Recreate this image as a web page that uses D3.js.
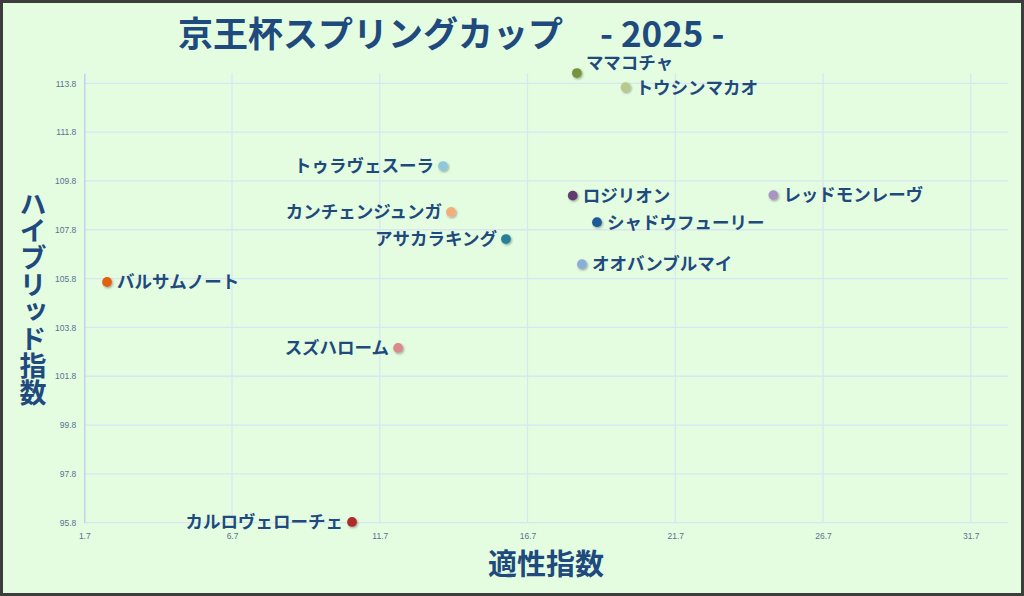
<!DOCTYPE html>
<html>
<head>
<meta charset="utf-8">
<script src="https://cdn.jsdelivr.net/npm/d3@7"></script>
<style>
  body { margin: 0; background: #fff; }
  svg { display: block; font-family: "Noto Sans CJK JP", "Noto Sans", sans-serif; }
</style>
</head>
<body>
<div id="chart"></div>
<script>
// data
const horses = ["ママコチャ", "トウシンマカオ", "トゥラヴェスーラ", "ロジリオン", "レッドモンレーヴ",
  "カンチェンジュンガ", "シャドウフューリー", "アサカラキング", "オオバンブルマイ", "バルサムノート",
  "スズハローム", "カルロヴェローチェ"];
const tekisei = [18.37, 20.02, 13.84, 18.23, 25.02, 14.11, 19.05, 15.97, 18.54, 2.47, 12.32, 10.76];
const hybrid = [114.22, 113.64, 110.41, 109.20, 109.22, 108.53, 108.11, 107.42, 106.39, 105.66, 102.96, 95.83];
const xTicks = [1.7, 6.7, 11.7, 16.7, 21.7, 26.7, 31.7];
const yTicks = [95.8, 97.8, 99.8, 101.8, 103.8, 105.8, 107.8, 109.8, 111.8, 113.8];

// dot colours, same order as horses
const palette = ["#77933c", "#b9c98c", "#8ec8da", "#5f3c6e", "#a995c2", "#f4ae7c",
  "#1f5c99", "#25809a", "#8aaed8", "#e1620b", "#d98a8a", "#b02a2a"];
// where each label goes relative to its dot
const leftLabels = ["トゥラヴェスーラ", "カンチェンジュンガ", "アサカラキング", "スズハローム", "カルロヴェローチェ"];

const W = 1024, H = 596;
const plot = { left: 84.3, right: 1008, top: 73.3, bottom: 522.7 };
const ink = "#1f4a7e";

var svg = d3.select("#chart").append("svg").attr("width", W).attr("height", H);

var defs = svg.append("defs");
defs.append("filter").attr("id", "shadow")
  .attr("x", "-50%").attr("y", "-50%").attr("width", "200%").attr("height", "200%")
  .append("feDropShadow")
  .attr("dx", 1).attr("dy", 1.2).attr("stdDeviation", 0.9)
  .attr("flood-color", "#000").attr("flood-opacity", 0.35);

// background + frame
svg.append("rect").attr("x", 1.5).attr("y", 1.5).attr("width", W - 3).attr("height", H - 3)
  .style("fill", "#e4fde1").style("stroke", "#3d3d3d").style("stroke-width", 3);

// scales
const x = d3.scaleLinear().domain([1.7, 32.96]).range([plot.left, plot.right]);
const y = d3.scaleLinear().domain([95.8, 114.21]).range([plot.bottom, plot.top]);

// grid
svg.append("g").selectAll("line").data(yTicks).enter().append("line")
  .attr("x1", plot.left).attr("x2", plot.right)
  .attr("y1", d => y(d)).attr("y2", d => y(d))
  .style("stroke", "#d8e6f2").style("stroke-width", 1.3);
svg.append("g").selectAll("line").data(xTicks.slice(1)).enter().append("line")
  .attr("x1", d => x(d)).attr("x2", d => x(d))
  .attr("y1", plot.top).attr("y2", plot.bottom)
  .style("stroke", "#d8e6f2").style("stroke-width", 1.3);

// axes
var xAxis = svg.append("g")
  .attr("transform", "translate(0," + plot.bottom + ")")
  .call(d3.axisBottom(x).tickValues(xTicks).tickSize(0).tickPadding(10).tickFormat(d3.format(".1f")));
var yAxis = svg.append("g")
  .attr("transform", "translate(" + plot.left + ",0)")
  .call(d3.axisLeft(y).tickValues(yTicks).tickSize(0).tickPadding(8).tickFormat(d3.format(".1f")));
xAxis.select(".domain").remove();
yAxis.select(".domain").style("stroke", "#b9cdf0").style("stroke-width", 1.3);
svg.selectAll(".tick text")
  .style("font-family", "Liberation Sans, sans-serif")
  .style("font-size", "8.5px").style("fill", "#5a7190");

// dots
svg.append("g").selectAll("circle").data(horses).enter().append("circle")
  .attr("cx", (d, i) => x(tekisei[i]))
  .attr("cy", (d, i) => y(hybrid[i]))
  .attr("r", 4.9)
  .attr("filter", "url(#shadow)")
  .style("fill", (d, i) => palette[i]);

// labels
svg.append("g").selectAll("text").data(horses).enter().append("text")
  .attr("x", (d, i) => x(tekisei[i]) + (leftLabels.includes(d) ? -9 : (d === "ママコチャ" ? 9 : 10)))
  .attr("y", (d, i) => y(hybrid[i]) + (d === "ママコチャ" ? -10 : 0))
  .attr("dy", "0.36em")
  .style("text-anchor", d => leftLabels.includes(d) ? "end" : "start")
  .style("font-size", "17.5px").style("font-weight", "bold")
  .style("fill", ink)
  .text(d => d);

// title
var title = svg.append("text")
  .attr("x", 178).attr("y", 47)
  .style("font-size", "35px").style("font-weight", "bold").style("fill", ink);
title.append("tspan").text("京王杯スプリングカップ");
title.append("tspan").attr("x", 600).text("- 2025 -");

// axis titles
svg.append("text")
  .attr("x", 546).attr("y", 575)
  .style("text-anchor", "middle")
  .style("font-size", "29px").style("font-weight", "bold").style("fill", ink)
  .text("適性指数");

svg.append("text")
  .attr("x", 33).attr("y", 298)
  .attr("writing-mode", "vertical-rl")
  .style("text-orientation", "upright")
  .style("text-anchor", "middle")
  .style("font-size", "27px").style("font-weight", "bold").style("fill", ink)
  .text("ハイブリッド指数");
</script>
</body>
</html>
